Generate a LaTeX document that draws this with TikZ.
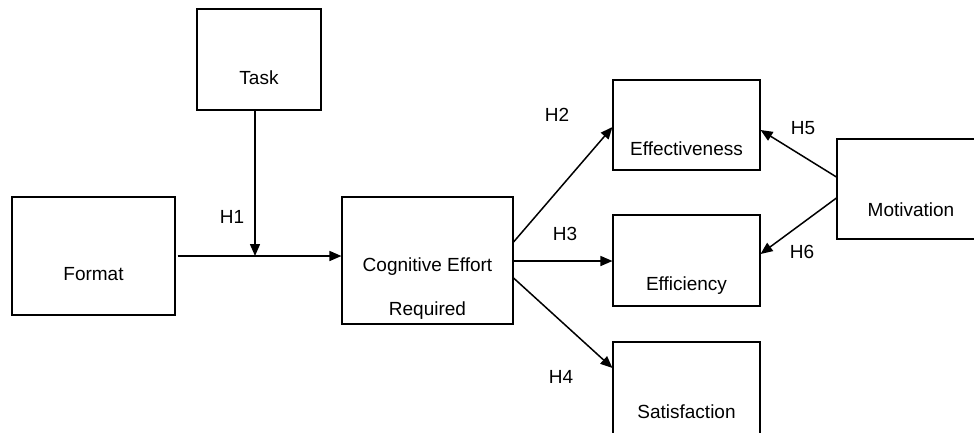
\documentclass[tikz,border=0pt]{standalone}
\usepackage{fontspec}
\setmainfont{Liberation Sans}
\usetikzlibrary{arrows.meta}

\begin{document}
\begin{tikzpicture}[
    x=1pt, y=-1pt,
    >={Triangle[length=12pt, width=10pt]},
    font=\fontsize{19}{23}\selectfont,
    konstrukt/.style={draw, line width=1.1pt, inner sep=0pt},
    txt/.style={anchor=base},
    hyp/.style={inner sep=0pt},
    pfeil/.style={->, line width=1.5pt}
  ]
    \useasboundingbox (0,0) rectangle (974,432);

    % --- Konstrukte ---
    \node[konstrukt, minimum width=124pt, minimum height=101pt,
          label={[txt, yshift=-18.5pt]center:Task}] (task) at (259,59.5) {};
    \node[konstrukt, minimum width=163pt, minimum height=118pt,
          label={[txt, yshift=-18pt]center:Format}] (format) at (93.5,256) {};
    \node[konstrukt, minimum width=171pt, minimum height=127pt,
          label={[txt, yshift=-6.5pt]center:Cognitive Effort},
          label={[txt, yshift=-50.5pt]center:Required}] (effort) at (427.5,260.5) {};
    \node[konstrukt, minimum width=147pt, minimum height=90pt,
          label={[txt, yshift=-24pt]center:Effectiveness}] (effect) at (686.5,125) {};
    \node[konstrukt, minimum width=147pt, minimum height=91pt,
          label={[txt, yshift=-25.5pt]center:Efficiency}] (effic) at (686.5,260.5) {};
    \node[konstrukt, minimum width=147pt, minimum height=100pt,
          label={[txt, yshift=-20pt]center:Satisfaction}] (satis) at (686.5,392) {};
    \node[konstrukt, minimum width=138pt, minimum height=100pt,
          label={[txt, xshift=5pt, yshift=-21pt]center:Motivation}] (motiv) at (906,189) {};

    % --- Pfeile ---
    \coordinate (join) at (255,256);
    \draw[pfeil] ([xshift=2pt]format.east) -- (format.east -| effort.west);
    \draw[pfeil] (task.south -| join) -- (join);
    \draw[pfeil] ([yshift=18.5pt]effort.east) -- ([yshift=-2pt]effect.west);
    \draw[pfeil] ([yshift=-0.5pt]effort.east) -- ([yshift=-0.5pt]effic.west);
    \draw[pfeil] ([yshift=-17.5pt]effort.east) -- ([yshift=24pt]satis.west);
    \draw[pfeil] ([yshift=12pt]motiv.west) -- ([yshift=-5pt]effect.east);
    \draw[pfeil] ([yshift=-9pt]motiv.west) -- ([yshift=6.5pt]effic.east);

    % --- Hypothesen ---
    \node[hyp] (h1) at (232,217) {H1};
    \node[hyp] (h2) at (557,115) {H2};
    \node[hyp] (h3) at (565,234) {H3};
    \node[hyp] (h4) at (561,377) {H4};
    \node[hyp] (h5) at (803,128) {H5};
    \node[hyp] (h6) at (802,252) {H6};

\end{tikzpicture}
\end{document}
